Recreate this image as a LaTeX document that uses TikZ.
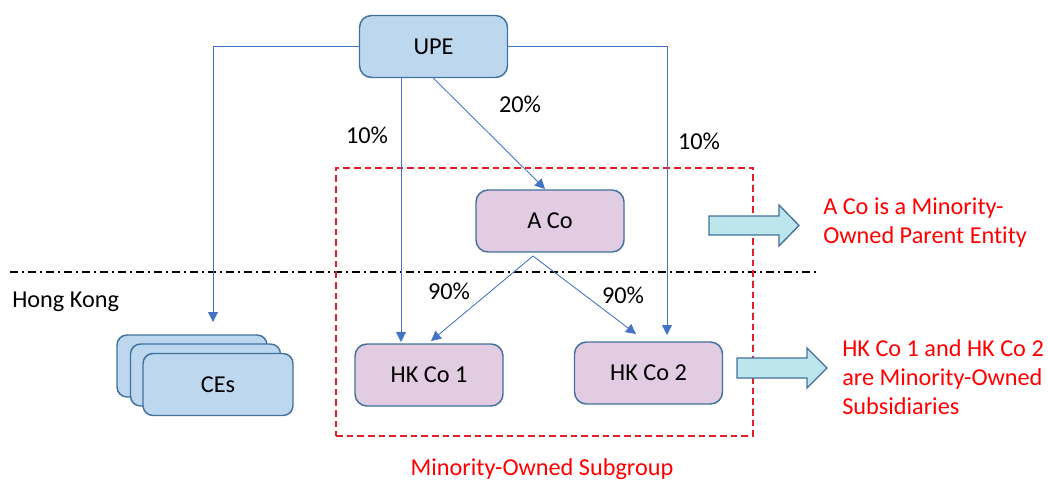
\documentclass[tikz,border=0pt]{standalone}
\usepackage{fontspec}
\setmainfont{Carlito}[Ligatures=NoCommon]
\usetikzlibrary{arrows.meta}
\definecolor{boxblue}{HTML}{BDD7EE}
\definecolor{boxpink}{HTML}{E1CCE1}
\definecolor{edgeblue}{HTML}{41719C}
\definecolor{linkblue}{HTML}{4472C4}
\definecolor{arrowcyan}{HTML}{BDE6EC}
\definecolor{notered}{HTML}{FF0000}
\definecolor{groupred}{HTML}{E0202A}

\begin{document}
\begin{tikzpicture}[x=0.75pt, y=-0.75pt,
  font=\fontsize{18.2}{21.75}\selectfont,
  entity/.style={draw=edgeblue, line width=1.1pt, rounded corners=9pt,
    minimum width=111pt, minimum height=46.5pt, inner sep=0pt},
  stackbox/.style={entity, fill=boxblue, minimum width=112.5pt, rounded corners=7.5pt},
  link/.style={draw=linkblue, line width=0.65pt,
    -{Triangle[length=7.5pt, width=7.5pt]}},
  blockarrow/.style={draw=edgeblue, line width=1pt, fill=arrowcyan, line join=miter},
  note/.style={text=notered, align=left, inner sep=0pt},
  pct/.style={inner sep=0pt}]

  \useasboundingbox (0,0) rectangle (1048,481);

  % jurisdiction border
  \coordinate (borderL) at (10,272);
  \coordinate (borderR) at (818,272);
  \draw[black, line width=0.9pt, dash pattern=on 6pt off 3pt on 1.5pt off 3pt]
    (borderL) -- (borderR);
  \node[anchor=west, inner sep=0pt] (hklabel) at (12,302) {Hong Kong};

  % minority-owned subgroup frame
  \node[draw=groupred, line width=1.1pt, dash pattern=on 5pt off 3pt,
    minimum width=312.75pt, minimum height=201pt, inner sep=0pt]
    (group) at (544.5,302) {};
  \node[text=notered, anchor=base, inner sep=0pt] (grouplabel) at (542,475)
    {Minority-Owned Subgroup};

  % entities
  \node[entity, fill=boxblue] (upe) at (433.5,46.5) {UPE};
  \node[entity, fill=boxpink] (aco) at (550,221) {A Co};
  \node[entity, fill=boxpink] (hk1) at (429,375) {HK Co 1};
  \node[entity, fill=boxpink] (hk2) at (648.5,373) {HK Co 2};

  % stacked constituent entities
  \node[stackbox] (ceback) at (192,366) {};
  \node[stackbox] (cemid) at (205.5,375) {};
  \node[stackbox] (cefront) at (218,384.5) {CEs};

  % arrow ends
  \coordinate (ceIn) at (213,322);
  \coordinate (hk2In) at (667,335);
  \coordinate (hk1In) at (401,342);
  \coordinate (acoIn) at (545,189);
  \coordinate (split) at (533,256);
  \coordinate (hk1Diag) at (431,341);
  \coordinate (hk2Diag) at (636,334);

  % ownership links
  \draw[link] (upe.west) -| (ceIn);
  \draw[link] (upe.east) -| (hk2In);
  \draw[link] (upe.south -| hk1In) -- (hk1In);
  \draw[link] (upe.south) -- (acoIn);
  \draw[link] (split) -- (hk1Diag);
  \draw[link] (split) -- (hk2Diag);

  % percentages
  \node[pct] (p20) at (520,104) {20\%};
  \node[pct] (p10a) at (367,135) {10\%};
  \node[pct] (p10b) at (699,141) {10\%};
  \node[pct] (p90a) at (449,291) {90\%};
  \node[pct] (p90b) at (623,295) {90\%};

  % callout arrows
  \draw[blockarrow] (709,216) -- (779,216) -- (779,205) -- (799,225.5)
    -- (779,246) -- (779,235) -- (709,235) -- cycle;
  \draw[blockarrow] (737,358) -- (807,358) -- (807,348) -- (827,368)
    -- (807,388) -- (807,378) -- (737,378) -- cycle;

  % notes
  \node[note, anchor=west] (note1) at (823,223)
    {A Co is a Minority-\\Owned Parent Entity};
  \node[note, anchor=west] (note2) at (842,377)
    {HK Co 1 and HK Co 2\\are Minority-Owned\\Subsidiaries};
\end{tikzpicture}
\end{document}
